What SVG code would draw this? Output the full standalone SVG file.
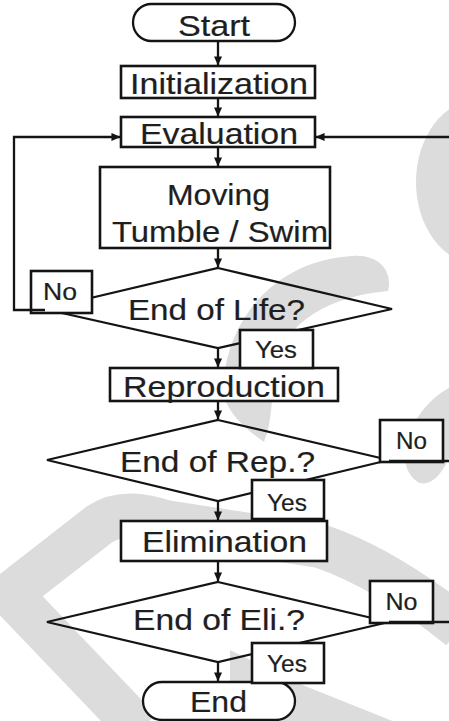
<svg xmlns="http://www.w3.org/2000/svg" width="449" height="721" viewBox="0 0 449 721">
<defs>
<style>
.wm{fill:#dcdcdc}
.box{fill:#fff;stroke:#141414;stroke-width:2.6}
.term{fill:#fff;stroke:#141414;stroke-width:2.3}
.dia{fill:none;stroke:#141414;stroke-width:2.3;stroke-linejoin:miter}
.ln{fill:none;stroke:#141414;stroke-width:2.3}
.t{font-family:"Liberation Sans",Arial,Helvetica,sans-serif;font-size:30px;fill:#1e1e1e;stroke:#1e1e1e;stroke-width:0.2;text-anchor:middle}
.s{font-size:23px}
</style>
<marker id="ah" viewBox="0 0 10 10" refX="9.5" refY="5" markerWidth="9" markerHeight="9" markerUnits="userSpaceOnUse" orient="auto"><path d="M0,0.5 L10,5 L0,9.5 z" fill="#141414"/></marker>
</defs>
<rect width="449" height="721" fill="#fff"/>
<g id="watermark">
<ellipse class="wm" cx="478" cy="182" rx="62" ry="82"/>
<path class="wm" d="M352 256 C380 254 393 272 388 291 C330 296 285 322 276 365 C271 395 273 420 264 442 C250 432 228 415 224 395 C220 340 260 262 352 256 Z"/>
<path class="wm" d="M449 388 C430 398 412 420 406 442 C402 462 408 478 420 483 C432 486 443 472 449 458 Z"/>
<path d="M140 730 L10 594 L100 524 Q125 508 165 522 L320 546 Q385 568 460 628" fill="none" stroke="#dcdcdc" stroke-width="44" stroke-linejoin="round"/>
<path class="wm" d="M230 650 L300 684 L400 724 L230 724 Z"/>
</g>
<g id="n-start"><rect class="term" x="133" y="4" width="162" height="37" rx="18.5"/><text class="t" x="214" y="36" textLength="72" lengthAdjust="spacingAndGlyphs">Start</text></g>
<g id="n-init"><rect class="box" x="121" y="66" width="194" height="32"/><text class="t" x="219" y="94" textLength="178" lengthAdjust="spacingAndGlyphs">Initialization</text></g>
<g id="n-eval"><rect class="box" x="121" y="117" width="194" height="30"/><text class="t" x="219" y="143.5" textLength="158" lengthAdjust="spacingAndGlyphs">Evaluation</text></g>
<g id="n-move"><rect class="box" x="100" y="167" width="230" height="81"/><text class="t" x="218.5" y="204.5" textLength="103" lengthAdjust="spacingAndGlyphs">Moving</text><text class="t" x="220" y="241.5" textLength="216" lengthAdjust="spacingAndGlyphs">Tumble / Swim</text></g>
<g id="n-life"><path class="dia" d="M218 268 L392 309 L218 348 L44 309 Z"/><text class="t" x="216.5" y="320" textLength="177" lengthAdjust="spacingAndGlyphs">End of Life?</text></g>
<g id="n-rep"><path class="dia" d="M218 420 L389 460 L218 501 L47 460 Z"/><text class="t" x="217.5" y="472" textLength="195" lengthAdjust="spacingAndGlyphs">End of Rep.?</text></g>
<g id="n-eli"><path class="dia" d="M218 582 L389 622 L218 662 L47 622 Z"/><text class="t" x="219" y="630" textLength="172" lengthAdjust="spacingAndGlyphs">End of Eli.?</text></g>
<g id="n-repro"><rect class="box" x="110" y="368" width="228" height="33"/><text class="t" x="224" y="396.5" textLength="202" lengthAdjust="spacingAndGlyphs">Reproduction</text></g>
<g id="n-elim"><rect class="box" x="121" y="521" width="206" height="40"/><text class="t" x="224.5" y="552" textLength="165" lengthAdjust="spacingAndGlyphs">Elimination</text></g>
<g id="n-end"><rect class="term" x="143" y="682" width="152" height="38" rx="19"/><text class="t" x="218.5" y="712" textLength="57" lengthAdjust="spacingAndGlyphs">End</text></g>
<g id="l-no1"><rect class="box" x="31" y="271" width="61" height="42"/><text class="t s" x="60" y="300" textLength="34" lengthAdjust="spacingAndGlyphs">No</text></g>
<g id="l-yes1"><rect class="box" x="240" y="330" width="73" height="38"/><text class="t s" x="276" y="358" textLength="42" lengthAdjust="spacingAndGlyphs">Yes</text></g>
<g id="l-no2"><rect class="box" x="380" y="420" width="63" height="42"/><text class="t s" x="411.5" y="449" textLength="31" lengthAdjust="spacingAndGlyphs">No</text></g>
<g id="l-yes2"><rect class="box" x="252" y="480" width="72" height="39"/><text class="t s" x="287" y="511" textLength="40" lengthAdjust="spacingAndGlyphs">Yes</text></g>
<g id="l-no3"><rect class="box" x="370" y="581" width="63" height="42"/><text class="t s" x="401.5" y="610" textLength="32" lengthAdjust="spacingAndGlyphs">No</text></g>
<g id="l-yes3"><rect class="box" x="252" y="643" width="72" height="40"/><text class="t s" x="287" y="672" textLength="40" lengthAdjust="spacingAndGlyphs">Yes</text></g>
<g id="connectors">
<path class="ln" marker-end="url(#ah)" d="M218 41 V65"/>
<path class="ln" marker-end="url(#ah)" d="M218 98 V116"/>
<path class="ln" marker-end="url(#ah)" d="M218 147 V166"/>
<path class="ln" marker-end="url(#ah)" d="M218 248 V267"/>
<path class="ln" marker-end="url(#ah)" d="M218 348 V367"/>
<path class="ln" marker-end="url(#ah)" d="M218 401 V419"/>
<path class="ln" marker-end="url(#ah)" d="M218 501 V520"/>
<path class="ln" marker-end="url(#ah)" d="M218 561 V581"/>
<path class="ln" marker-end="url(#ah)" d="M218 662 V681"/>
<path class="ln" marker-end="url(#ah)" d="M45 310 H14 V137 H120"/>
<path class="ln" marker-end="url(#ah)" d="M449 137 H316"/>
<path class="ln" d="M389 461 H449"/>
<path class="ln" d="M389 622 H449"/>
</g>
</svg>
